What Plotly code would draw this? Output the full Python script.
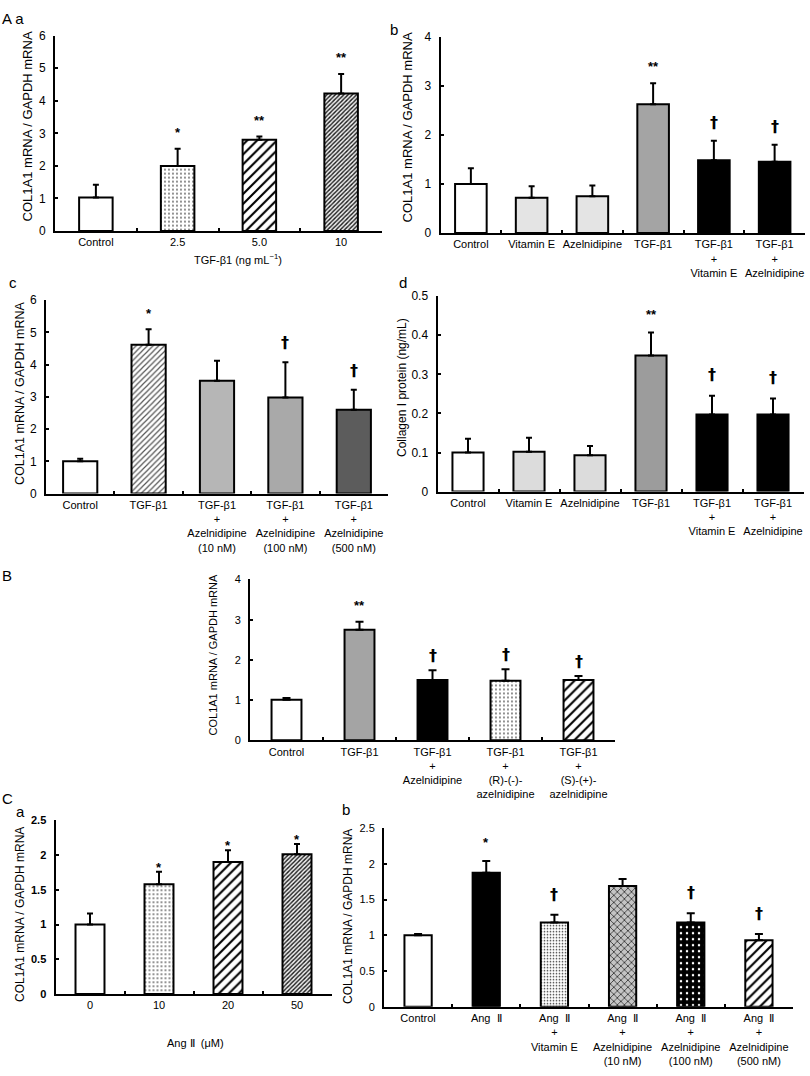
import plotly.graph_objects as go

W, H = 810, 1076
FONT = "Liberation Sans, Arial, sans-serif"

# ---------------- data ----------------
# Panel A-a
aa_categories = ["Control", "2.5", "5.0", "10"]
aa_values = [1.03, 2.0, 2.8, 4.22]
aa_err_top = [1.42, 2.53, 2.9, 4.82]
aa_marks = ["", "*", "**", "**"]

# Panel A-b
ab_categories = ["Control", "Vitamin E", "Azelnidipine", "TGF-β1",
                 "TGF-β1<br>+<br>Vitamin E", "TGF-β1<br>+<br>Azelnidipine"]
ab_values = [1.0, 0.72, 0.75, 2.62, 1.48, 1.45]
ab_err_top = [1.32, 0.95, 0.97, 3.05, 1.88, 1.8]
ab_marks = ["", "", "", "**", "†", "†"]

# Panel A-c
ac_categories = ["Control", "TGF-β1",
                 "TGF-β1<br>+<br>Azelnidipine<br>(10 nM)",
                 "TGF-β1<br>+<br>Azelnidipine<br>(100 nM)",
                 "TGF-β1<br>+<br>Azelnidipine<br>(500 nM)"]
ac_values = [1.0, 4.62, 3.5, 2.98, 2.6]
ac_err_top = [1.08, 5.1, 4.12, 4.07, 3.22]
ac_marks = ["", "*", "", "†", "†"]

# Panel A-d
ad_categories = ["Control", "Vitamin E", "Azelnidipine", "TGF-β1",
                 "TGF-β1<br>+<br>Vitamin E", "TGF-β1<br>+<br>Azelnidipine"]
ad_values = [0.1, 0.102, 0.093, 0.348, 0.197, 0.197]
ad_err_top = [0.135, 0.138, 0.117, 0.407, 0.245, 0.238]
ad_marks = ["", "", "", "**", "†", "†"]

# Panel B
b_categories = ["Control", "TGF-β1", "TGF-β1<br>+<br>Azelnidipine",
                "TGF-β1<br>+<br>(R)-(-)-<br>azelnidipine",
                "TGF-β1<br>+<br>(S)-(+)-<br>azelnidipine"]
b_values = [1.01, 2.75, 1.5, 1.48, 1.5]
b_err_top = [1.05, 2.95, 1.74, 1.77, 1.6]
b_marks = ["", "**", "†", "†", "†"]

# Panel C-a
ca_categories = ["0", "10", "20", "50"]
ca_values = [1.0, 1.58, 1.9, 2.01]
ca_err_top = [1.16, 1.76, 2.07, 2.16]
ca_marks = ["", "*", "*", "*"]

# Panel C-b
cb_categories = ["Control", "Ang  Ⅱ", "Ang  Ⅱ<br>+<br>Vitamin E",
                 "Ang  Ⅱ<br>+<br>Azelnidipine<br>(10 nM)",
                 "Ang  Ⅱ<br>+<br>Azelnidipine<br>(100 nM)",
                 "Ang  Ⅱ<br>+<br>Azelnidipine<br>(500 nM)"]
cb_values = [1.0, 1.875, 1.18, 1.69, 1.18, 0.93]
cb_err_top = [1.02, 2.04, 1.29, 1.79, 1.31, 1.02]
cb_marks = ["", "*", "†", "", "†", "†"]

# ---------------- styles ----------------
def plain(c):
    return dict(color=c)

def pat(shape, fg, bg, size, sol):
    return dict(color=bg, pattern=dict(shape=shape, fgcolor=fg, bgcolor=bg,
                                       size=size, solidity=sol, fillmode="replace"))

WHITE = plain("white")
LTGRAY = plain("#e4e4e4")
GRAY = plain("#a4a4a4")
BLACK = plain("#000000")
DOTS = pat(".", "#6a6a6a", "white", 4, 0.18)
HATCH = pat("/", "#000000", "white", 7, 0.3)
DENSE = pat("/", "#1a1a1a", "#f0f0f0", 3, 0.45)
CHATCH = pat("/", "#555555", "white", 4, 0.3)
CHECK = pat("x", "#333333", "#c4c4c4", 5, 0.3)
BDOTS = pat(".", "white", "black", 6, 0.14)
FDOTS = pat(".", "#444444", "white", 3, 0.25)

panels = [
    dict(cat=aa_categories, val=aa_values, err=aa_err_top, marks=aa_marks,
         styles=[WHITE, DOTS, HATCH, DENSE], x=(55, 382), y=(29, 227), ymax=6, dtick=1,
         bw=0.41, cap=3, tfs=12, ss=7, ds=8),
    dict(cat=ab_categories, val=ab_values, err=ab_err_top, marks=ab_marks,
         styles=[WHITE, LTGRAY, LTGRAY, GRAY, BLACK, BLACK], x=(440.5, 805), y=(30, 229),
         ymax=4, dtick=1, bw=0.52, cap=3, tfs=12, ss=7, ds=7),
    dict(cat=ac_categories, val=ac_values, err=ac_err_top, marks=ac_marks,
         styles=[WHITE, CHATCH, plain("#b6b6b6"), plain("#a9a9a9"), plain("#5c5c5c")],
         x=(46, 388), y=(297, 493), ymax=6, dtick=1, bw=0.5, cap=3, tfs=12, ss=6, ds=8),
    dict(cat=ad_categories, val=ad_values, err=ad_err_top, marks=ad_marks,
         styles=[WHITE, plain("#dcdcdc"), plain("#dcdcdc"), plain("#9c9c9c"), BLACK, BLACK],
         x=(437.5, 803.5), y=(293, 491), ymax=0.5, dtick=0.1, bw=0.51, cap=3, tfs=12,
         ss=9, ds=10),
    dict(cat=b_categories, val=b_values, err=b_err_top, marks=b_marks,
         styles=[WHITE, GRAY, BLACK, DOTS, HATCH], x=(250, 615), y=(580, 743),
         ymax=4, dtick=1, bw=0.41, cap=4, tfs=11, ss=7, ds=3),
    dict(cat=ca_categories, val=ca_values, err=ca_err_top, marks=ca_marks,
         styles=[WHITE, DOTS, HATCH, DENSE], x=(55.5, 331.5), y=(824, 1000),
         ymax=2.5, dtick=0.5, bw=0.42, cap=3, tfs=11, bold=True, ss=-5, ds=3),
    dict(cat=cb_categories, val=cb_values, err=cb_err_top, marks=cb_marks,
         styles=[WHITE, BLACK, FDOTS, CHECK, BDOTS, HATCH], x=(384, 793), y=(832, 1013),
         ymax=2.5, dtick=0.5, bw=0.4, cap=4, tfs=11, ss=9, ds=9),
]

fig = go.Figure()
layout = dict(width=W, height=H, margin=dict(l=0, r=0, t=0, b=0),
              plot_bgcolor="white", paper_bgcolor="white", showlegend=False,
              font=dict(family=FONT, color="black", size=11), barmode="overlay")
annotations = []

for i, p in enumerate(panels):
    k = "" if i == 0 else str(i + 1)
    xa, ya = "x" + k, "y" + k
    for j, (c, v, e, s) in enumerate(zip(p["cat"], p["val"], p["err"], p["styles"])):
        marker = dict(color=s["color"], line=dict(color="black", width=2))
        if "pattern" in s:
            marker["pattern"] = s["pattern"]
        fig.add_trace(go.Bar(
            x=[c], y=[v], xaxis=xa, yaxis=ya, width=p["bw"], marker=marker,
            error_y=dict(type="data", symmetric=False, array=[e - v], arrayminus=[0],
                         color="black", thickness=2, width=p["cap"]),
            hoverinfo="skip",
        ))
    layout["xaxis" + k] = dict(
        domain=[p["x"][0] / W, p["x"][1] / W], anchor=ya, type="category",
        categoryorder="array", categoryarray=p["cat"],
        range=[-0.5, len(p["cat"]) - 0.5], tickson="boundaries",
        ticks="inside", ticklen=3, tickwidth=2, tickcolor="black", tickangle=0,
        showline=True, linewidth=2, linecolor="black", showgrid=False,
        tickfont=dict(size=11, family=FONT), fixedrange=True,
    )
    tf = dict(size=p["tfs"], family=FONT)
    if p.get("bold"):
        tf["weight"] = "bold"
    layout["yaxis" + k] = dict(
        domain=[1 - p["y"][1] / H, 1 - p["y"][0] / H], anchor=xa,
        range=[0, p["ymax"]], dtick=p["dtick"], tick0=0,
        ticks="inside", ticklen=3, tickwidth=2, tickcolor="black",
        showline=True, linewidth=2, linecolor="black", showgrid=False,
        zeroline=False, tickfont=tf, ticklabelstandoff=5, fixedrange=True,
    )
    for j, (e, m) in enumerate(zip(p["err"], p["marks"])):
        if not m:
            continue
        if m == "†":
            fnt = dict(size=16, family="DejaVu Sans", color="black", weight="bold")
            shift = p["ds"]
        else:
            fnt = dict(size=13, family=FONT, color="black", weight="bold")
            shift = p["ss"]
        annotations.append(dict(
            x=j, y=e, xref=xa, yref=ya, text=m, showarrow=False,
            yanchor="bottom", yshift=shift, font=fnt,
        ))

def ytitle(text, x, y, size=12):
    annotations.append(dict(x=x / W, y=1 - y / H, xref="paper", yref="paper",
                            text=text, textangle=-90, showarrow=False,
                            xanchor="center", yanchor="middle",
                            font=dict(size=size, family=FONT)))

def label(text, x, y, size=15):
    annotations.append(dict(x=x / W, y=1 - y / H, xref="paper", yref="paper",
                            text=text, showarrow=False, xanchor="left", yanchor="top",
                            font=dict(size=size, family=FONT)))

ytitle("COL1A1 mRNA / GAPDH mRNA", 27, 121, 13)
ytitle("COL1A1 mRNA / GAPDH mRNA", 407, 122, 13)
ytitle("COL1A1 mRNA / GAPDH mRNA", 20, 392, 12.5)
ytitle("Collagen I protein (ng/mL)", 402, 386, 12)
ytitle("COL1A1 mRNA / GAPDH mRNA", 213, 657, 11)
ytitle("COL1A1 mRNA / GAPDH mRNA", 20, 920, 12)
ytitle("COL1A1 mRNA / GAPDH mRNA", 348, 922, 12)

# x-axis titles
annotations.append(dict(x=238 / W, y=1 - 255 / H, xref="paper", yref="paper",
                        text="TGF-β1 (ng mL<sup>−1</sup>)", showarrow=False,
                        xanchor="center", yanchor="middle", font=dict(size=11, family=FONT)))
annotations.append(dict(x=195 / W, y=1 - 1050 / H, xref="paper", yref="paper",
                        text="Ang Ⅱ  (μM)", showarrow=False,
                        xanchor="center", yanchor="middle", font=dict(size=11, family=FONT)))

label("A a", 0, 1, 15)
label("b", 388, 12, 15)
label("c", 7, 268, 15)
label("d", 397, 268, 15)
label("B", 0, 565, 15)
label("C", 0, 791, 15)
label("a", 14, 804, 15)
label("b", 340, 802, 15)

layout["annotations"] = annotations
fig.update_layout(**layout)
fig.write_html("out.html", config={"displayModeBar": False},
               post_script="document.body.style.margin='0';document.body.style.overflow='hidden';")
